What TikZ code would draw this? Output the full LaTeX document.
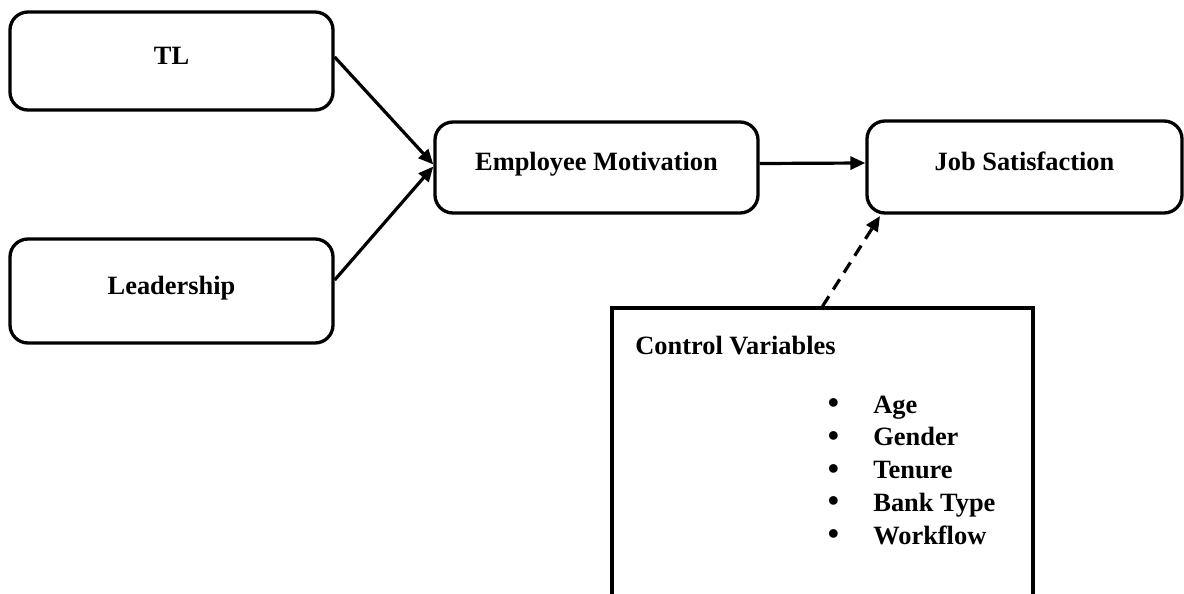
\documentclass[tikz,border=0pt]{standalone}
\usepackage{fontspec}
\setmainfont{Liberation Serif}
\usetikzlibrary{arrows.meta}
\usetikzlibrary{calc}

\tikzset{
  >={Triangle[length=7.5pt,width=6.5pt]},
  txt/.style={font=\bfseries\fontsize{13.2}{16}\selectfont},
  factor/.style={txt, draw, line width=1.65pt, rounded corners=9pt,
    inner sep=0pt, text height=9pt, text depth=6pt},
  ctrlbox/.style={draw, line width=1.65pt, minimum width=210.5pt,
    minimum height=151pt},
  ctrlitem/.style={txt, anchor=base west, inner sep=0pt},
  link/.style={->, line width=1.6pt},
}
\newcommand{\bigbul}{\llap{\raisebox{-0.3pt}{\fontsize{16}{16}\selectfont\textbullet}\hspace{17.2pt}}}

\begin{document}
\begin{tikzpicture}[x=0.5pt,y=-0.5pt]
\useasboundingbox (0,0) rectangle (1184,594);
\clip (0,0) rectangle (1184,594);
% factors
\node[factor, minimum width=161.5pt, minimum height=49pt] (TL) at (171.5,61) {TL};
\node[factor, minimum width=161.5pt, minimum height=52pt] (LD) at (171.5,291) {Leadership};
\node[factor, minimum width=161.5pt, minimum height=45.5pt] (EM) at (596.5,167.5) {Employee Motivation};
\node[factor, minimum width=157.5pt, minimum height=46pt] (JS) at (1024.5,167) {Job Satisfaction};
% control variables
\node[ctrlbox] (CV) at (822.5,459) {};
\node[ctrlitem] (CVtitle) at (635,354) {Control Variables};
\foreach \nm/\lbl [count=\i from 0] in {age/Age, gender/Gender, tenure/Tenure, bank/Bank Type, flow/Workflow}
  \node[ctrlitem] (\nm) at (873,{413+32.75*\i}) {\bigbul\lbl};
\coordinate (JSin) at (880,216);
% arrows
\draw[link] ([yshift=2pt]TL.east) -- ([yshift=1.5pt]EM.west);
\draw[link] ([yshift=5.5pt]LD.east) -- ([yshift=0.5pt]EM.west);
\draw[link] ([yshift=2pt]EM.east) -- ([yshift=2pt]JS.west);
\draw[link, dash pattern=on 6pt off 4pt] (CV.north) -- (JSin);
\end{tikzpicture}
\end{document}
